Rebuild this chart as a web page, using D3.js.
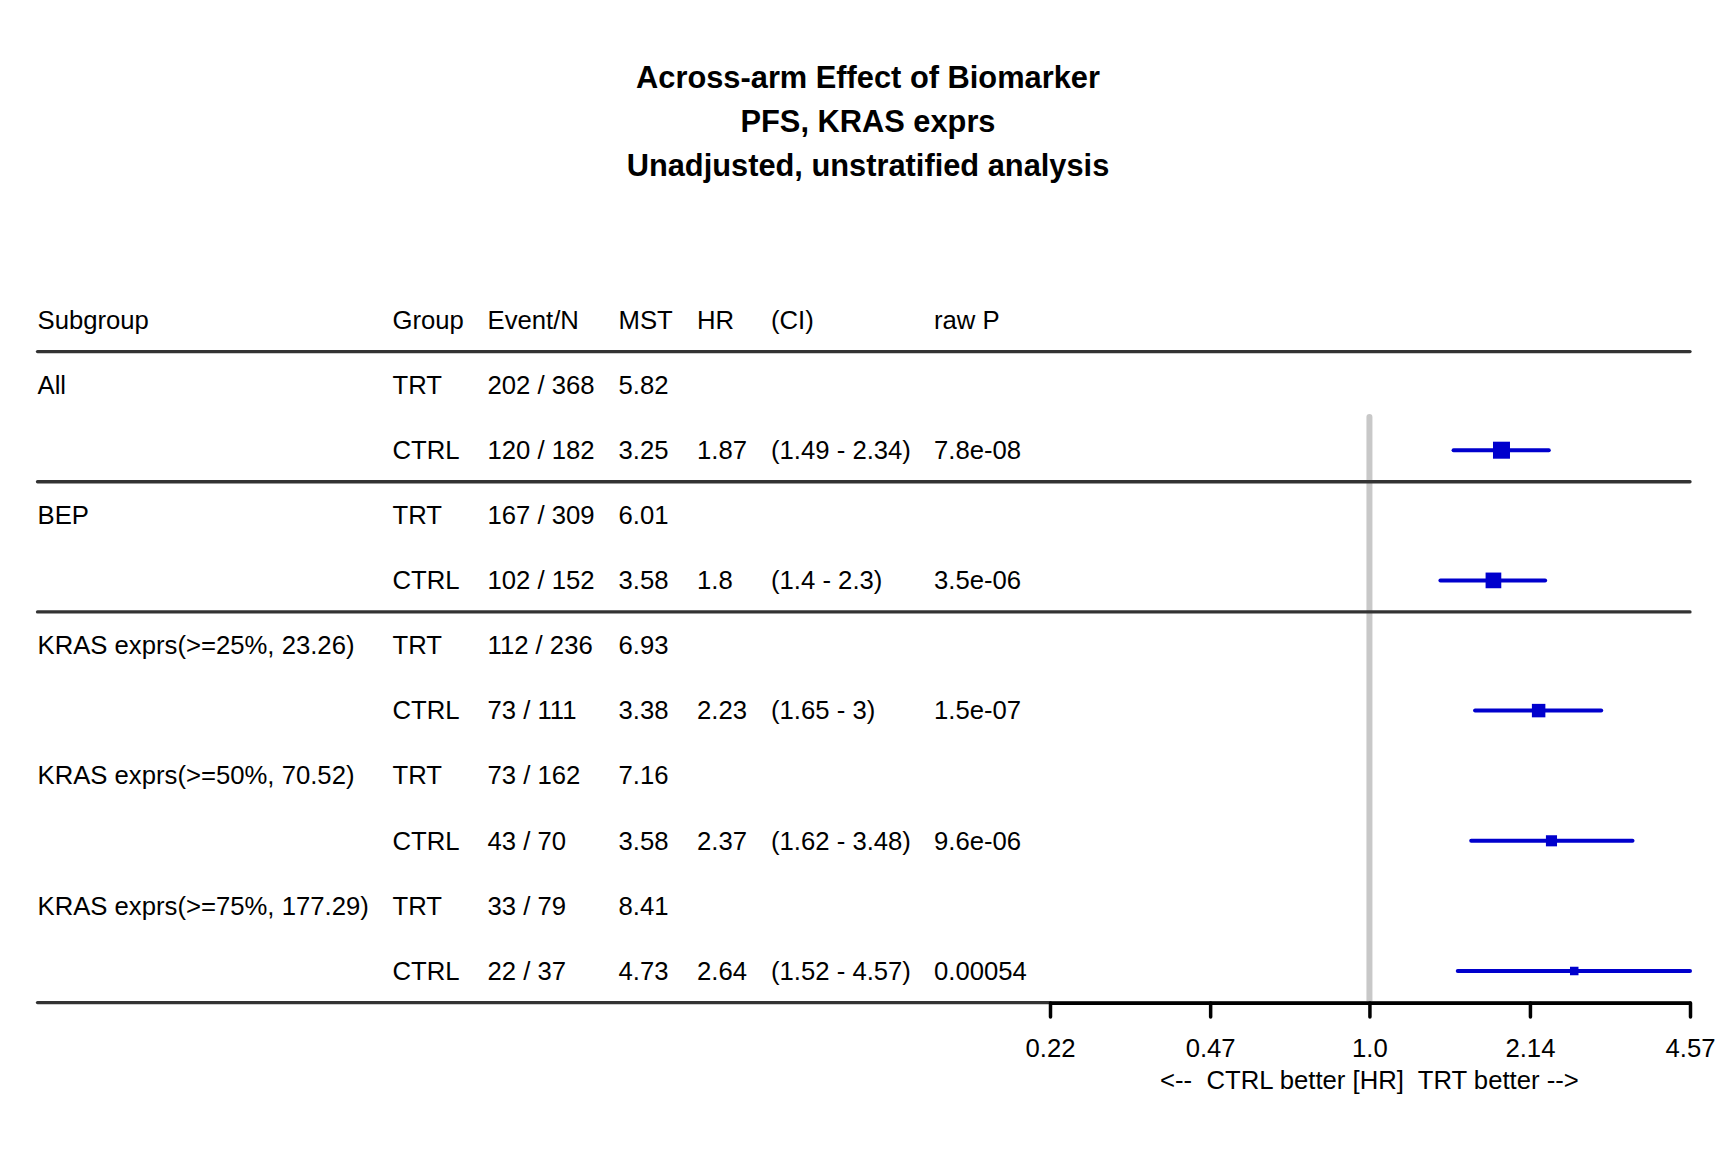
<!DOCTYPE html>
<html>
<head>
<meta charset="utf-8">
<script src="https://cdn.jsdelivr.net/npm/d3@7"></script>
<style>
  html, body { margin: 0; padding: 0; background: #fff; }
  svg { display: block; }
  text { font-family: "Liberation Sans", Arial, Helvetica, sans-serif; fill: #000; white-space: pre; }
</style>
</head>
<body>
<svg id="chart" width="1728" height="1152"></svg>
<script>
// ---- data ----
const titleLines = ["Across-arm Effect of Biomarker", "PFS, KRAS exprs", "Unadjusted, unstratified analysis"];
const headers = ["Subgroup", "Group", "Event/N", "MST", "HR", "(CI)", "raw P"];
const subgroups = ["All", "BEP", "KRAS exprs(>=25%, 23.26)", "KRAS exprs(>=50%, 70.52)", "KRAS exprs(>=75%, 177.29)"];
const trtEventN = ["202 / 368", "167 / 309", "112 / 236", "73 / 162", "33 / 79"];
const trtMST = ["5.82", "6.01", "6.93", "7.16", "8.41"];
const ctrlEventN = ["120 / 182", "102 / 152", "73 / 111", "43 / 70", "22 / 37"];
const ctrlMST = ["3.25", "3.58", "3.38", "3.58", "4.73"];
const hr = [1.87, 1.8, 2.23, 2.37, 2.64];
const hrLabel = ["1.87", "1.8", "2.23", "2.37", "2.64"];
const ciLower = [1.49, 1.4, 1.65, 1.62, 1.52];
const ciUpper = [2.34, 2.3, 3, 3.48, 4.57];
const ciLabel = ["(1.49 - 2.34)", "(1.4 - 2.3)", "(1.65 - 3)", "(1.62 - 3.48)", "(1.52 - 4.57)"];
const rawP = ["7.8e-08", "3.5e-06", "1.5e-07", "9.6e-06", "0.00054"];
const ruleAfterSubgroup = [true, true, false, false, true];
const tickValues = [0.22, 0.47, 1.0, 2.14, 4.57];
const tickLabels = ["0.22", "0.47", "1.0", "2.14", "4.57"];
const axisLabel = "<--  CTRL better [HR]  TRT better -->";

// ---- layout ----
const svg = d3.select("#chart");
const FS = 25.7;
const colX = [37.5, 392.5, 487.5, 618.5, 697, 771, 934];
const y = d3.scaleLinear().domain([0, 10]).range([320, 971]);
const x = d3.scaleLog().domain([0.22, 4.57]).range([1050, 1690]);
const leftX = 37.5, rightX = 1690;
const half = (y(1) - y(0)) / 2 - 1;
const base = FS * 0.36;

// title
svg.append("g").selectAll("text").data(titleLines).join("text")
  .attr("x", 868)
  .attr("y", (d, i) => 88 + i * 44)
  .attr("text-anchor", "middle")
  .style("font-size", "30.8px")
  .style("font-weight", "bold")
  .text(d => d);

// header
svg.append("g").selectAll("text").data(headers).join("text")
  .attr("x", (d, i) => colX[i])
  .attr("y", y(0) + base)
  .style("font-size", FS + "px")
  .text(d => d);

// table rows
const rows = [];
subgroups.forEach((s, k) => {
  rows.push({ idx: 1 + 2 * k, cells: [s, "TRT", trtEventN[k], trtMST[k], "", "", ""] });
  rows.push({ idx: 2 + 2 * k, cells: ["", "CTRL", ctrlEventN[k], ctrlMST[k], hrLabel[k], ciLabel[k], rawP[k]] });
});
const rowG = svg.append("g").selectAll("g").data(rows).join("g")
  .attr("transform", d => `translate(0,${y(d.idx) + base - 0.5})`);
rowG.selectAll("text").data(d => d.cells).join("text")
  .attr("x", (d, i) => colX[i])
  .style("font-size", FS + "px")
  .text(d => d);

// reference line at HR = 1
svg.append("line")
  .attr("x1", x(1)).attr("x2", x(1))
  .attr("y1", 417).attr("y2", y(10) + half)
  .attr("stroke", "#c8c8c8").attr("stroke-width", 6)
  .attr("stroke-linecap", "round");

// rules
const ruleYs = [y(0) + half].concat(
  subgroups.map((s, k) => ruleAfterSubgroup[k] ? y(2 + 2 * k) + half : null).filter(v => v !== null)
);
svg.append("g").selectAll("line").data(ruleYs).join("line")
  .attr("x1", leftX).attr("x2", rightX)
  .attr("y1", d => d).attr("y2", d => d)
  .attr("stroke", "#333").attr("stroke-width", 3.3)
  .attr("stroke-linecap", "round");

// axis
const axis = d3.axisBottom(x)
  .tickValues(tickValues)
  .tickFormat((d, i) => tickLabels[i])
  .tickSize(14)
  .tickSizeOuter(0)
  .tickPadding(22);
const axG = svg.append("g")
  .attr("transform", `translate(0,${y(10) + half + 0.5})`)
  .call(axis);
axG.select(".domain").attr("stroke", "#000").attr("stroke-width", 3);
axG.selectAll(".tick line").attr("stroke", "#000").attr("stroke-width", 3.5).attr("stroke-linecap", "round");
axG.selectAll(".tick text")
  .style("font-size", FS + "px")
  .style("font-family", '"Liberation Sans", Arial, Helvetica, sans-serif')
  .attr("fill", "#000");
svg.append("text")
  .attr("x", x(1)).attr("y", 1080 + base)
  .attr("text-anchor", "middle")
  .attr("xml:space", "preserve")
  .style("font-size", FS + "px")
  .text(axisLabel);

// forest marks
const invSE = hr.map((h, k) => 2 * 1.96 / (Math.log(ciUpper[k]) - Math.log(ciLower[k])));
const box = d3.scaleLinear().domain(d3.extent(invSE)).range([8.5, 17]);
const marks = svg.append("g").selectAll("g").data(hr).join("g")
  .attr("transform", (d, k) => `translate(0,${y(2 + 2 * k)})`);
marks.append("line")
  .attr("x1", (d, k) => x(ciLower[k]))
  .attr("x2", (d, k) => x(ciUpper[k]))
  .attr("stroke", "#0000cd").attr("stroke-width", 4)
  .attr("stroke-linecap", "round");
marks.append("rect")
  .attr("x", (d, k) => x(d) - box(invSE[k]) / 2)
  .attr("y", (d, k) => -box(invSE[k]) / 2)
  .attr("width", (d, k) => box(invSE[k]))
  .attr("height", (d, k) => box(invSE[k]))
  .attr("fill", "#0000cd");
</script>
</body>
</html>
